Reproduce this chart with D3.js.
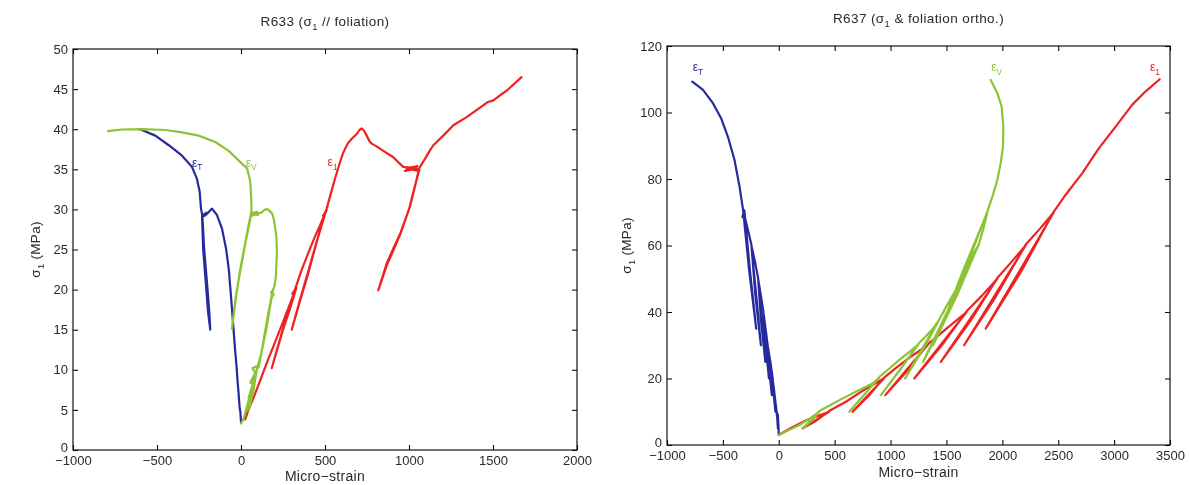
<!DOCTYPE html>
<html><head><meta charset="utf-8">
<script src="https://cdn.jsdelivr.net/npm/d3@7"></script>
<style>body{margin:0;background:#fff}svg{display:block}</style>
</head><body>
<svg id="c" width="1189" height="485"></svg>
<script>
// ---------------- DATA ----------------
// R633 (sigma1 // foliation)
const r633_xTicks = [-1000, -500, 0, 500, 1000, 1500, 2000];
const r633_yTicks = [0, 5, 10, 15, 20, 25, 30, 35, 40, 45, 50];
const r633_eT = [
  [0,3.5],[-4,4.8],[-8,5.2],[-14,7],[-20,8.5],[-27,10.5],[-34,12.2],[-48,16],[-60,19.3],[-73,22.6],[-89,25.1],[-113,27.6],[-143,29.3],[-173,30.1],
  [-195,29.6],[-215,29.2],[-205,29.6],[-228,29.1],[-212,29.5],[-232,29.2],
  [-225,25],[-210,21],[-196,17.2],[-183,15],
  [-188,17],[-203,21],[-219,25],[-230,29.2],
  [-238,30.1],[-246,32.2],[-262,33.8],[-292,35.3],[-351,36.7],[-430,38],[-510,39.2],[-600,40]
];
const r633_eV = [
  [0,3.3],[16,3.9],[40,5.8],[62,7.5],[80,9],[95,10.2],
  [75,7.5],[50,5.2],[30,4.8],[60,7.2],[45,6.5],[70,8.2],[55,8.4],[85,9.6],[68,10.2],[100,10.5],
  [120,12],[135,13.5],[150,15],[165,16.8],[180,19],[195,19.4],[178,19.6],[192,20],
  [160,16.5],[130,13],[105,10.3],[135,13.8],[160,16.8],[188,19.8],
  [200,20.5],[208,21.8],[214,24.7],[211,26.5],[204,27.6],[195,28.8],[185,29.5],[160,30],[145,30],[120,29.6],[100,29.5],
  [65,29.2],[95,29.7],[62,29.5],[100,29.3],[60,29.6],
  [40,27.5],[26,25.9],[-4,22.6],[-28,19.3],[-54,15.1],
  [-32,19],[-2,22.6],[28,26],[50,28.2],[62,29.6],
  [62,30.5],[60,31.7],[57,33],[52,33.8],[36,35.1],[-4,35.9],[-73,37.3],[-153,38.4],[-252,39.2],[-351,39.6],[-450,39.9],[-589,40],[-708,39.96],[-792,39.75]
];
const r633_e1 = [
  [25,3.8],[44,5],[80,6.8],[120,9],[160,11.2],[192,12.9],[260,16.5],[300,18.7],[322,19.8],
  [305,19.5],[330,20.2],[312,19.7],[326,20],
  [290,17.5],[250,15],[215,12.5],[183,10.2],
  [218,12.8],[252,15.3],[290,17.8],[321,20],
  [360,22.4],[403,24.7],[440,26.6],[470,28],[500,29.5],
  [488,29.2],[510,29.9],[494,29.3],[506,29.8],
  [450,25.9],[400,22],[350,18.5],[302,15],
  [352,18.8],[402,22.4],[452,26.1],[502,29.7],
  [510,30.1],[535,32],[559,33.8],[585,35.6],[609,37.1],[635,38.2],[659,38.8],[689,39.4],[705,39.9],[719,40.1],[733,39.8],[748,39.2],[765,38.5],[778,38.2],[812,37.8],[847,37.3],[907,36.5],[940,35.8],[966,35.3],
  [1060,35.1],[975,34.8],[1050,35.4],[985,35.1],[1055,34.8],[1000,35.2],[1062,35.0],
  [1030,32.5],[1000,30],[946,26.8],[905,24.8],[867,23],[817,19.9],
  [868,23.3],[908,25.2],[950,27.1],[1005,30.3],[1035,32.8],[1060,35.1],
  [1065,35.3],[1080,35.8],[1095,36.3],[1120,37.2],[1145,38],[1204,39.2],[1264,40.5],[1343,41.5],[1423,42.7],[1470,43.4],[1502,43.6],[1540,44.2],[1581,44.8],[1670,46.5]
];

// R637 (sigma1 & foliation ortho.)
const r637_xTicks = [-1000, -500, 0, 500, 1000, 1500, 2000, 2500, 3000, 3500];
const r637_yTicks = [0, 20, 40, 60, 80, 100, 120];
const r637_eT = [
  [0,3],[-3,6],[-8,9],[-20,10],[-12,7.5],[-8,5],[-13,7.8],[-20,10.2],
  [-32,13.5],[-42,16.5],[-55,20],[-42,15],[-30,10],[-46,15.3],[-55,20.2],
  [-75,25],[-100,30],[-80,22.5],[-62,15],[-86,22.8],[-100,30.2],
  [-118,35],[-138,40],[-112,30],[-88,20],[-118,30.3],[-138,40.2],
  [-160,45],[-185,50],[-152,37.5],[-120,25],[-160,37.8],[-185,50.2],
  [-212,55],[-245,60],[-202,45],[-160,30],[-210,45.3],[-245,60.2],
  [-278,65],[-315,70],[-325,68.5],[-308,70.6],[-258,52.5],[-202,35],[-266,52.8],[-318,70.3],
  [-323,71.5],[-351,77.7],[-396,85.7],[-455,92.7],[-515,98.2],[-589,102.8],[-678,106.8],[-774,109.3]
];
const r637_eV = [
  [0,3],[90,4.5],[185,6],[280,8],[363,10],
  [290,7.6],[214,5],[295,7.3],[363,10.2],
  [450,11.8],[542,13.5],[690,16],[780,17.5],[839,18.5],[900,20.3],
  [760,15],[631,10],[770,15.3],[900,20.5],
  [990,23],[1078,25.6],[1170,28],[1250,30.3],
  [1080,22.5],[914,15],[1090,22.8],[1250,30.5],
  [1310,32.5],[1380,35],[1430,37.5],[1480,40.3],
  [1300,30],[1130,20],[1318,30.3],[1480,40.5],
  [1530,43.5],[1584,46.6],[1660,50.3],
  [1470,37.5],[1290,25],[1488,37.8],[1660,50.5],
  [1703,54.6],[1740,57.5],[1790,60.3],
  [1580,45],[1380,30],[1598,45.3],[1790,60.5],
  [1830,65],[1866,70],
  [1650,52.5],[1450,35],[1668,52.8],[1866,70.2],
  [1911,74.7],[1955,79.7],[1985,84.7],[2006,89.7],[2009,95.7],[1994,101.8],[1955,105.8],[1896,109.8]
];
const r637_e1 = [
  [0,3],[100,5],[250,7.5],[450,10],
  [330,7.5],[214,5],[335,7.3],[450,10.2],
  [600,13],[760,16.5],[940,20],
  [800,15],[660,10],[805,14.8],[940,20.2],
  [1060,23.5],[1200,27],[1330,30],
  [1140,22.5],[953,15],[1150,22.3],[1330,30.2],
  [1500,35],[1680,40],
  [1446,30],[1212,20],[1455,29.8],[1680,40.2],
  [1820,45],[1955,50],
  [1703,37.5],[1450,25],[1715,37.3],[1955,50.2],
  [2080,55],[2208,60],
  [1933,45],[1658,30],[1945,44.8],[2208,60.2],
  [2335,65],[2461,70],
  [2156,52.5],[1851,35],[2170,52.3],[2461,70.2],
  [2565,75.2],[2714,81.7],[2863,89.2],[3012,95.7],[3161,102.3],[3280,106.3],[3408,110]
];

// ---------------- LAYOUT / STYLE ----------------
const COLORS = { T: "#262a9e", V: "#8cc435", L: "#ee2222" };
const FONT = "'Liberation Sans', Arial, Helvetica, sans-serif";
const TEXT = "#2a2a2a";

const panels = [
  {
    left: 73, right: 577, top: 49, bottom: 450,
    xDomain: [-1000, 2000], yDomain: [0, 50],
    xTicks: r633_xTicks, yTicks: r633_yTicks,
    title: ["R633 (σ", "1", " // foliation)"], titleY: 26,
    ylabelX: 36, xlabelY: 481,
    series: [
      { data: r633_e1, key: "L", lab: "1", at: [515, 35.4] },
      { data: r633_eT, key: "T", lab: "T", at: [-292, 35.3] },
      { data: r633_eV, key: "V", lab: "V", at: [28, 35.3] }
    ]
  },
  {
    left: 667, right: 1170, top: 46, bottom: 445,
    xDomain: [-1000, 3500], yDomain: [0, 120],
    xTicks: r637_xTicks, yTicks: r637_yTicks,
    title: ["R637 (σ", "1", " & foliation ortho.)"], titleY: 23,
    ylabelX: 627, xlabelY: 477,
    series: [
      { data: r637_e1, key: "L", lab: "1", at: [3320, 112.5] },
      { data: r637_eT, key: "T", lab: "T", at: [-770, 112.5] },
      { data: r637_eV, key: "V", lab: "V", at: [1900, 112.5] }
    ]
  }
];

const svg = d3.select("#c");
svg.append("rect").attr("width", 1189).attr("height", 485).attr("fill", "#fff");
const defs = svg.append("defs");
defs.append("filter").attr("id", "soft").attr("x", "-5%").attr("y", "-5%").attr("width", "110%").attr("height", "110%")
  .append("feGaussianBlur").attr("stdDeviation", 0.4);
const root = svg.append("g").attr("filter", "url(#soft)");

function subText(g, parts, x, y, size, anchor, color, spacing) {
  const t = g.append("text").attr("x", x).attr("y", y)
    .attr("font-family", FONT).attr("font-size", size)
    .attr("text-anchor", anchor).attr("fill", color)
    .attr("letter-spacing", spacing || 0);
  t.append("tspan").text(parts[0]);
  t.append("tspan").attr("font-size", size * 0.7).attr("dy", size * 0.3).text(parts[1]);
  if (parts[2]) t.append("tspan").attr("dy", -size * 0.3).text(parts[2]);
  return t;
}

panels.forEach(p => {
  const x = d3.scaleLinear().domain(p.xDomain).range([p.left, p.right]);
  const y = d3.scaleLinear().domain(p.yDomain).range([p.bottom, p.top]);
  const g = root.append("g");
  const fmt = d3.format("d");

  // curves
  const line = d3.line().x(d => x(d[0])).y(d => y(d[1]));
  p.series.forEach(s => {
    g.append("path").datum(s.data).attr("d", line)
      .attr("fill", "none").attr("stroke", COLORS[s.key])
      .attr("stroke-width", 2.2).attr("stroke-linejoin", "round").attr("stroke-linecap", "round");
  });
  // series labels
  p.series.forEach(s => {
    subText(g, ["ε", s.lab], x(s.at[0]), y(s.at[1]), 12, "start", COLORS[s.key]);
  });

  // axes with inward ticks on all sides
  const styleAxis = a => {
    a.select(".domain").remove();
    a.selectAll(".tick line").attr("stroke", "#111").attr("stroke-width", 1.1);
    a.selectAll("text").attr("font-family", FONT).attr("font-size", 13).attr("fill", TEXT);
  };
  g.append("g").attr("transform", `translate(0,${p.bottom})`)
    .call(d3.axisBottom(x).tickValues(p.xTicks).tickFormat(fmt).tickSizeInner(-5).tickSizeOuter(0).tickPadding(6))
    .call(styleAxis);
  g.append("g").attr("transform", `translate(0,${p.top})`)
    .call(d3.axisTop(x).tickValues(p.xTicks).tickFormat("").tickSizeInner(-5).tickSizeOuter(0))
    .call(styleAxis);
  g.append("g").attr("transform", `translate(${p.left},0)`)
    .call(d3.axisLeft(y).tickValues(p.yTicks).tickFormat(fmt).tickSizeInner(-5).tickSizeOuter(0).tickPadding(5))
    .call(styleAxis)
    .call(a => a.selectAll(".tick").filter(d => d === 0).select("text").attr("dy", "0.1em"));
  g.append("g").attr("transform", `translate(${p.right},0)`)
    .call(d3.axisRight(y).tickValues(p.yTicks).tickFormat("").tickSizeInner(-5).tickSizeOuter(0))
    .call(styleAxis);

  // frame
  g.append("rect").attr("x", p.left).attr("y", p.top)
    .attr("width", p.right - p.left).attr("height", p.bottom - p.top)
    .attr("fill", "none").attr("stroke", "#111").attr("stroke-width", 1.2);

  // title
  subText(g, p.title, (p.left + p.right) / 2, p.titleY, 13.5, "middle", TEXT, 0.4);
  // x label
  g.append("text").attr("x", (p.left + p.right) / 2).attr("y", p.xlabelY)
    .attr("font-family", FONT).attr("font-size", 14).attr("text-anchor", "middle").attr("fill", TEXT)
    .attr("letter-spacing", 0.3)
    .text("Micro−strain");
  // y label
  const yl = g.append("g").attr("transform", `translate(${p.ylabelX},${(p.top + p.bottom) / 2}) rotate(-90)`);
  subText(yl, ["σ", "1", " (MPa)"], 0, 4, 13.5, "middle", TEXT, 0.3);
});
</script>
</body></html>
